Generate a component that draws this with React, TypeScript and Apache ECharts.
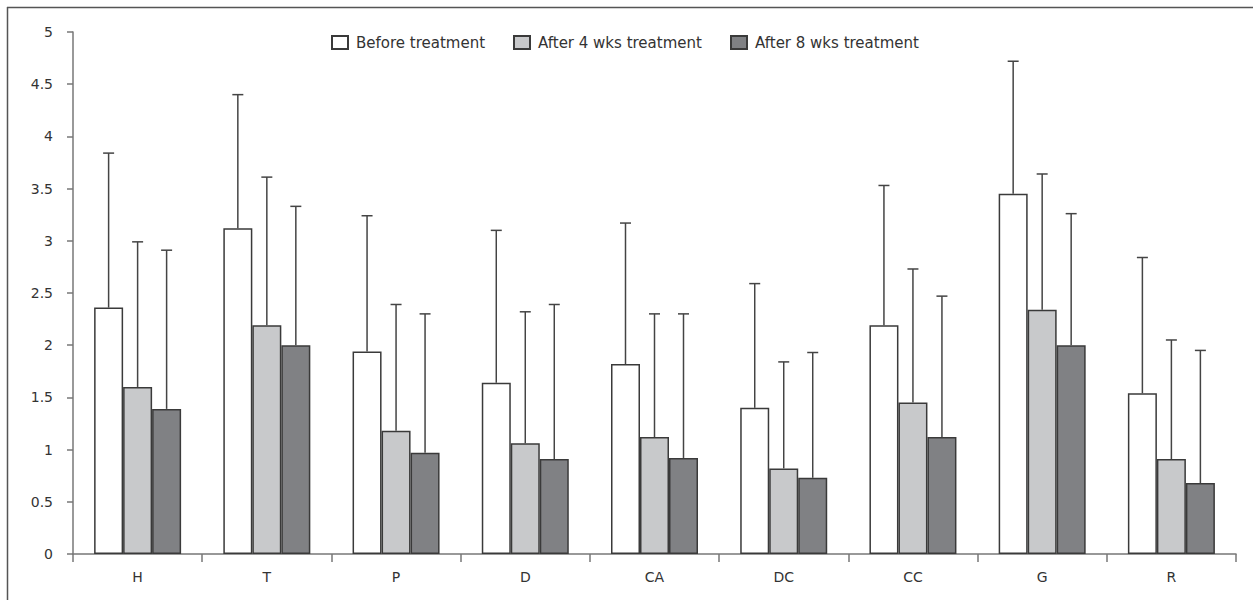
import React, { useEffect, useRef } from "react";
import * as echarts from "echarts";

const categories = ["H", "T", "P", "D", "CA", "DC", "CC", "G", "R"];
const seriesNames = ["Before treatment", "After 4 wks treatment", "After 8 wks treatment"];
const beforeMean = [2.36, 3.12, 1.94, 1.64, 1.82, 1.4, 2.19, 3.45, 1.54];
const beforeUpper = [3.84, 4.4, 3.24, 3.1, 3.17, 2.59, 3.53, 4.72, 2.84];
const after4Mean = [1.6, 2.19, 1.18, 1.06, 1.12, 0.82, 1.45, 2.34, 0.91];
const after4Upper = [2.99, 3.61, 2.39, 2.32, 2.3, 1.84, 2.73, 3.64, 2.05];
const after8Mean = [1.39, 2.0, 0.97, 0.91, 0.92, 0.73, 1.12, 2.0, 0.68];
const after8Upper = [2.91, 3.33, 2.3, 2.39, 2.3, 1.93, 2.47, 3.26, 1.95];
const yTicks = [0, 0.5, 1, 1.5, 2, 2.5, 3, 3.5, 4, 4.5, 5];

const colors = ["#ffffff", "#c8c9cb", "#808184"];
const legendLefts = [331, 513, 730];
const BAR_W = 29;
const FONT = "DejaVu Sans";

export default function App() {
  const ref = useRef<HTMLDivElement>(null);
  useEffect(() => {
    if (!ref.current) return;
    const chart = echarts.init(ref.current, undefined, { renderer: "svg" });
    const means = [beforeMean, after4Mean, after8Mean];
    const uppers = [beforeUpper, after4Upper, after8Upper];
    const offsets = [-BAR_W, 0, BAR_W];

    const barSeries = seriesNames.map((name, i) => ({
      name,
      type: "bar",
      data: means[i],
      barWidth: BAR_W,
      barGap: "0%",
      itemStyle: { color: colors[i], borderColor: "#3a3a3a", borderWidth: 1.5 },
      z: 2,
    }));

    const errSeries = seriesNames.map((name, i) => ({
      name: name + " err",
      type: "custom",
      z: 3,
      data: categories.map((_, k) => [k, means[i][k], uppers[i][k]]),
      renderItem: (params: any, api: any) => {
        const base = api.coord([api.value(0), api.value(1)]);
        const top = api.coord([api.value(0), api.value(2)]);
        const x = base[0] + offsets[i];
        const style = { stroke: "#444", lineWidth: 1.5 };
        return {
          type: "group",
          children: [
            { type: "line", shape: { x1: x, y1: base[1], x2: x, y2: top[1] }, style },
            { type: "line", shape: { x1: x - 5.5, y1: top[1], x2: x + 5.5, y2: top[1] }, style },
          ],
        };
      },
    }));

    chart.setOption({
      animation: false,
      backgroundColor: "#ffffff",
      textStyle: { fontFamily: FONT },
      legend: seriesNames.map((name, i) => ({
        data: [name],
        left: legendLefts[i] - 5,
        top: 30,
        itemWidth: 16,
        itemHeight: 13,
        itemGap: 0,
        icon: "rect",
        textStyle: { fontFamily: FONT, fontSize: 15, color: "#333", padding: [0, 0, 0, 3] },
      })),
      grid: { left: 73, right: 17, top: 32, bottom: 46, containLabel: false },
      xAxis: {
        type: "category",
        data: categories,
        boundaryGap: true,
        axisLine: { lineStyle: { color: "#777", width: 1.5 } },
        axisTick: { show: true, length: 8, alignWithLabel: false, lineStyle: { color: "#777", width: 1.5 } },
        axisLabel: { color: "#333", fontSize: 14, fontFamily: FONT, margin: 16 },
      },
      yAxis: {
        type: "value",
        min: yTicks[0],
        max: yTicks[yTicks.length - 1],
        interval: yTicks[1] - yTicks[0],
        splitLine: { show: false },
        axisLine: { show: true, lineStyle: { color: "#777", width: 1.5 } },
        axisTick: { show: true, length: 6, lineStyle: { color: "#777", width: 1.5 } },
        axisLabel: { color: "#333", fontSize: 14, fontFamily: FONT, margin: 20 },
      },
      graphic: [
        { type: "line", shape: { x1: 7, y1: 7.5, x2: 1253, y2: 7.5 }, style: { stroke: "#555", lineWidth: 1.5 } },
        { type: "line", shape: { x1: 7.5, y1: 7, x2: 7.5, y2: 600 }, style: { stroke: "#555", lineWidth: 1.5 } },
      ],
      series: [...barSeries, ...errSeries],
    });
    return () => chart.dispose();
  }, []);
  return (
    <div
      ref={ref}
      style={{ position: "fixed", left: 0, top: 0, width: 1253, height: 600 }}
    />
  );
}
